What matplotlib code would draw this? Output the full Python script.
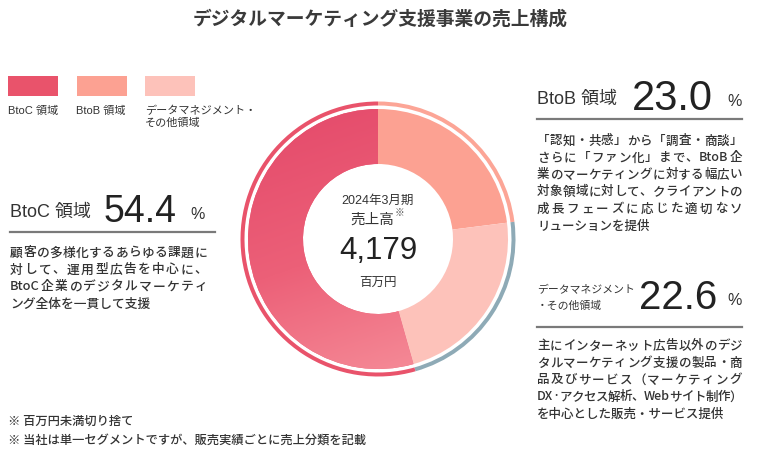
import re
import numpy as np
import matplotlib.pyplot as plt
from matplotlib.colors import LinearSegmentedColormap

plt.rcParams['font.family'] = ['Noto Sans CJK JP', 'DejaVu Sans']
LATIN = ['Liberation Sans', 'Noto Sans CJK JP']

# データ (時計回り: BtoB -> データマネジメント -> BtoC)
segments = ['BtoB 領域', 'データマネジメント・その他領域', 'BtoC 領域']
shares = [23.0, 22.6, 54.4]
fill_colors = ['#fca192', '#fdc2ba', '#ec5a70']
ring_colors = ['#fca596', '#8eaab6', '#e9536b']

total_sales = '4,179'
legend_labels = ['BtoC 領域', 'BtoB 領域', 'データマネジメント・\nその他領域']
legend_colors = ['#e9536b', '#fca192', '#fdc2ba']

btoc_text = ['顧客の多様化するあらゆる課題に',
             '対して、運用型広告を中心に、',
             'BtoC企業のデジタルマーケティ',
             'ング全体を一貫して支援']
btob_text = ['「認知・共感」から「調査・商談」',
             'さらに「ファン化」まで、BtoB企',
             '業のマーケティングに対する幅広い',
             '対象領域に対して、クライアントの',
             '成長フェーズに応じた適切なソ',
             'リューションを提供']
data_text = ['主にインターネット広告以外のデジ',
             'タルマーケティング支援の製品・商',
             '品及びサービス（マーケティング',
             'DX·アクセス解析、Webサイト制作）',
             'を中心とした販売・サービス提供']
notes = ['※ 百万円未満切り捨て',
         '※ 当社は単一セグメントですが、販売実績ごとに売上分類を記載']

W, H = 760, 456
fig = plt.figure(figsize=(W / 100, H / 100), dpi=100)
bg = fig.add_axes([0, 0, 1, 1])
bg.set_xlim(0, W)
bg.set_ylim(H, 0)
bg.axis('off')
renderer = fig.canvas.get_renderer()

# ドーナツ
cx, cy, R = 378, 240, 140
pax = fig.add_axes([(cx - R) / W, (H - cy - R) / H, 2 * R / W, 2 * R / H])
wedges, _ = pax.pie(shares, radius=130, startangle=90, counterclock=False,
                    colors=fill_colors, wedgeprops=dict(width=55, linewidth=0))
pax.pie(shares, radius=137.5, startangle=90, counterclock=False,
        colors=ring_colors, wedgeprops=dict(width=4, linewidth=0))

# BtoC のグラデーション
gx, gy = np.meshgrid(np.linspace(-1, 1, 300), np.linspace(-1, 1, 300))
t = (0.35 * gx - gy)
t = (t - t.min()) / (t.max() - t.min())
cmap = LinearSegmentedColormap.from_list('btoc', ['#e4496a', '#ec6078', '#f7939d'])
im = pax.imshow(t, cmap=cmap, origin='lower', extent=(-130, 130, -130, 130), zorder=3)
im.set_clip_path(wedges[2])

pax.set_xlim(-R, R)
pax.set_ylim(-R, R)
pax.set_aspect('equal')
pax.axis('off')

# タイトル
bg.text(380, 19, 'デジタルマーケティング支援事業の売上構成', ha='center', va='center',
        fontsize=13.5, fontweight='bold', color='#3a3a3a')

# 凡例
for i, (lab, col) in enumerate(zip(legend_labels, legend_colors)):
    x0 = 8 + i * 68.5
    bg.add_patch(plt.Rectangle((x0, 77), 50, 20, color=col, lw=0))
    bg.text(x0, 106, lab, ha='left', va='top', fontsize=8, color='#333333',
            linespacing=1.15, family=LATIN)

# 中央テキスト
bg.text(cx, 201, '2024年3月期', ha='center', va='center', fontsize=9,
        color='#333333', family=LATIN)
bg.text(cx - 6, 220, '売上高', ha='center', va='center', fontsize=10.5, color='#333333')
bg.text(cx + 17, 213, '※', ha='left', va='center', fontsize=7, color='#555555')
bg.text(cx, 251, total_sales, ha='center', va='center', fontsize=22.5,
        color='#222222', family=LATIN)
bg.text(cx, 282, '百万円', ha='center', va='center', fontsize=9, color='#333333')


def justified(x, y, line, width, size):
    # 英数字はまとめて、残りは1文字ずつ置いて両端揃え
    tokens = re.findall(r'[A-Za-z0-9]+|.', line)
    parts = [bg.text(0, y, tk, ha='left', va='center', fontsize=size,
                     fontweight='medium', color='#333333') for tk in tokens]
    widths = [p.get_window_extent(renderer).width for p in parts]
    gap = (width - sum(widths)) / max(len(parts) - 1, 1)
    pos = x
    for p, w in zip(parts, widths):
        p.set_x(pos)
        pos += w + gap


def block(x, y_head, head, pct, xpct, xperc, line_y, lines, y0, pct_size,
          body_size=9, width=205):
    if isinstance(head, tuple):
        bg.text(x, y_head - 8, head[0], ha='left', va='center', fontsize=7.8,
                color='#333333')
        bg.text(x, y_head + 8, head[1], ha='left', va='center', fontsize=7.8,
                color='#333333')
    else:
        bg.text(x, y_head, head, ha='left', va='center', fontsize=13,
                color='#333333', family=LATIN)
    bg.text(xpct, y_head, pct, ha='left', va='center', fontsize=pct_size,
            color='#222222', family=LATIN)
    bg.text(xperc, y_head + 3, '%', ha='left', va='center', fontsize=11.5,
            color='#333333', family=LATIN)
    bg.plot([x, x + 205], [line_y, line_y], color='#7a7a7a', lw=1.6)
    for k, ln in enumerate(lines):
        if k < len(lines) - 1:
            justified(x, y0 + k * 17, ln, width, body_size)
        else:
            bg.text(x, y0 + k * 17, ln, ha='left', va='center', fontsize=body_size,
                    fontweight='medium', color='#333333')


block(10, 212, 'BtoC 領域', f'{shares[2]:.1f}', 104, 190, 233, btoc_text, 253, 27,
      body_size=9.2, width=197)
block(537, 99, 'BtoB 領域', f'{shares[0]:.1f}', 632, 727, 120, btob_text, 141, 30)
block(537, 298, ('データマネジメント', '・その他領域'), f'{shares[1]:.1f}', 639, 727,
      328, data_text, 346, 29)

for k, n in enumerate(notes):
    bg.text(8, 421 + k * 19, n, ha='left', va='center', fontsize=8.8,
            fontweight='medium', color='#333333')

fig.savefig('out.png', dpi=100)
